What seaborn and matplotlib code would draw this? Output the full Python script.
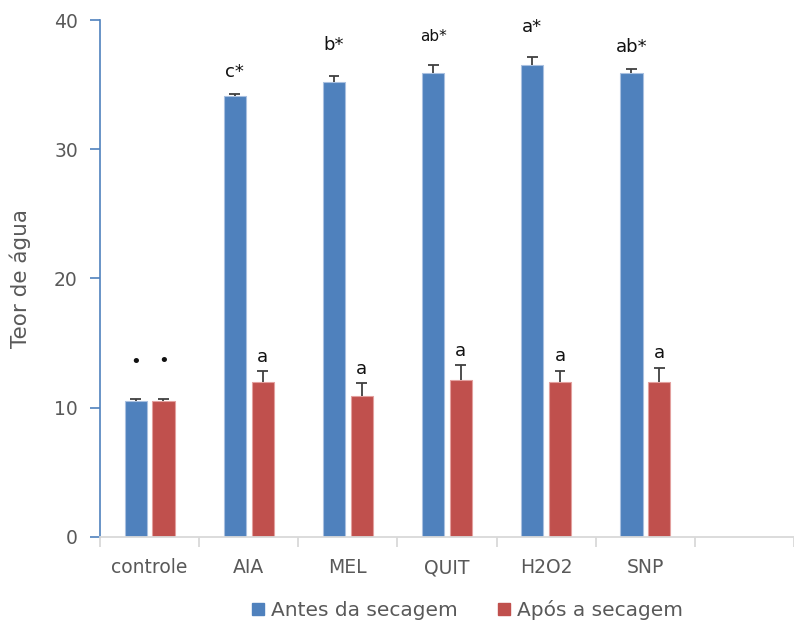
import numpy as np
import pandas as pd
import matplotlib
matplotlib.use("Agg")
import matplotlib.pyplot as plt
import seaborn as sns
from matplotlib.patches import Patch

# dados
tratamentos = ["controle", "AIA", "MEL", "QUIT", "H2O2", "SNP"]
antes = [10.5, 34.15, 35.2, 35.9, 36.5, 35.9]
apos = [10.5, 11.95, 10.9, 12.15, 11.95, 11.95]
erro_antes = [0.2, 0.1, 0.45, 0.6, 0.6, 0.3]
erro_apos = [0.2, 0.85, 1.0, 1.15, 0.85, 1.1]
letras_antes = ["•", "c*", "b*", "ab*", "a*", "ab*"]
letras_apos = ["•", "a", "a", "a", "a", "a"]
# distancia das letras acima da barra de erro
folga_antes = [2.8, 1.75, 2.4, 2.2, 2.35, 1.7]
folga_apos = [2.9, 1.1, 1.1, 1.1, 1.2, 1.15]
series = ["Antes da secagem", "Após a secagem"]

a = pd.DataFrame({
    "trat": tratamentos * 2,
    "teor": antes + apos,
    "grupo": [series[0]] * 6 + [series[1]] * 6,
})

sns.set_style("white")
plt.rcParams["font.family"] = ["DejaVu Sans"]
cinza = "#595959"
azul, verm = "#4F81BD", "#C0504D"

fig = plt.figure(figsize=(7.94, 6.25), dpi=100)
ax = fig.add_axes([0.126, 0.141, 0.874, 0.827])
sns.barplot(data=a, x="trat", y="teor", hue="grupo", order=tratamentos,
            hue_order=series, palette=[azul, verm], width=0.56,
            gap=0.2, errorbar=None, saturation=1, ax=ax, legend=False,
            linewidth=0)
n = len(tratamentos)
for i, p in enumerate(ax.patches[:2 * n]):
    p.set_edgecolor("#A9C0E0" if i < n else "#E3A09E")
    p.set_linewidth(0.8)

# barras de erro (so para cima) e letras
for i, p in enumerate(ax.patches[:2 * n]):
    xc = p.get_x() + p.get_width() / 2
    if i < n:
        v, e, t, f = antes[i], erro_antes[i], letras_antes[i], folga_antes[i]
    else:
        j = i - n
        v, e, t, f = apos[j], erro_apos[j], letras_apos[j], folga_apos[j]
    ax.vlines(xc, v, v + e, color="#404040", lw=1.3, zorder=3)
    ax.hlines(v + e, xc - 0.055, xc + 0.055, color="#404040", lw=1.3, zorder=3)
    fs = 11 if i == 3 else 13
    ax.text(xc, v + e + f, t, ha="center", va="center", fontsize=fs,
            color="#111111", fontweight="medium")

ax.set_ylim(0, 40)
ax.set_xlim(-0.5, 6.3)
ax.set_yticks([0, 10, 20, 30, 40])
ax.set_xticks(range(n))
ax.set_xticklabels(tratamentos)
ax.set_xticks(np.arange(-0.5, 6.6, 1), minor=True)
ax.tick_params(axis="x", which="major", bottom=False, pad=12, labelsize=13.5,
               labelcolor=cinza)
ax.tick_params(axis="x", which="minor", bottom=True, length=7, width=1.3,
               color="#D9D9D9", direction="out")
ax.tick_params(axis="y", left=True, length=7, width=1.2, color=azul,
               labelsize=13.5, labelcolor=cinza, direction="out", pad=9)
ax.set_xlabel("")
ax.set_ylabel("Teor de água", fontsize=15.5, color=cinza)
ax.yaxis.set_label_coords(-0.1, 0.5)

for s in ["top", "right"]:
    ax.spines[s].set_visible(False)
ax.spines["left"].set_color(azul)
ax.spines["left"].set_linewidth(1.2)
ax.spines["bottom"].set_color("#D9D9D9")
ax.spines["bottom"].set_linewidth(1.3)

h = [Patch(color=azul), Patch(color=verm)]
fig.legend(h, series, loc="center", bbox_to_anchor=(0.589, 0.024), ncol=2,
           frameon=False, fontsize=14.5, labelcolor=cinza, handlelength=0.6,
           handleheight=0.6, columnspacing=2.0, handletextpad=0.35)

fig.savefig("out.png", dpi=100)
